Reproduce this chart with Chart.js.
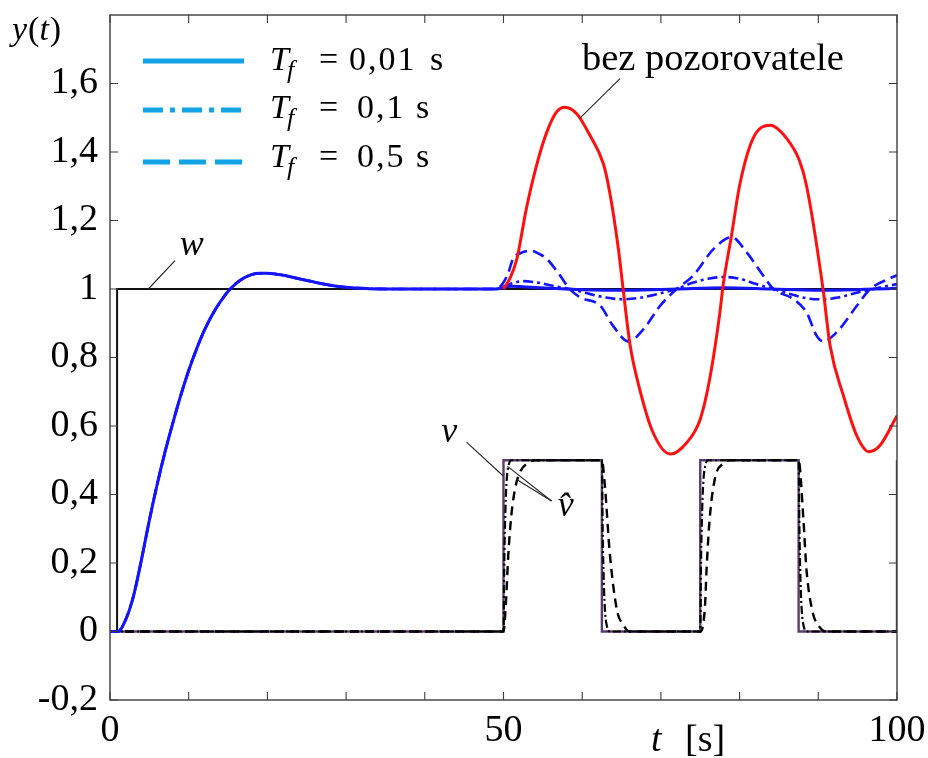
<!DOCTYPE html>
<html>
<head>
<meta charset="utf-8">
<script src="https://cdn.jsdelivr.net/npm/chart.js@4.4.1/dist/chart.umd.min.js"></script>
<style>
  html, body { margin: 0; padding: 0; background: #fff; }
  #c { display: block; }
  .warm { position: absolute; left: -999px; top: 0; font-family: "Liberation Serif", "DejaVu Serif", serif; }
</style>
</head>
<body>
<span class="warm">0,1 <i>v w T</i></span>
<canvas id="c" width="928" height="758"></canvas>
<script>
// ── Data ─────────────────────────────────────────────────
// reference w: unit step
const tW = [0, 0.9, 0.9, 100];
const yW = [0, 0, 1, 1];

// response to w, same for every Tf (0..50 s)
const tRise = [0, 1, 2, 3, 4, 5, 6, 7, 8, 9, 10, 11, 12, 13, 14, 15, 16, 17, 18, 19, 20, 22, 24, 26, 28, 30, 33, 36, 42, 49];
const yRise = [0, 0, 0.035, 0.105, 0.21, 0.325, 0.43, 0.525, 0.61, 0.69, 0.762, 0.825, 0.88, 0.925, 0.962, 0.993, 1.016, 1.032, 1.042, 1.046, 1.046, 1.04, 1.03, 1.02, 1.011, 1.005, 1.001, 1.0, 1.0, 1.0];

// Tf = 0,01 s after disturbance
const tF001 = [50, 51, 53, 56, 60, 66, 72, 78, 84, 90, 96, 100];
const yF001 = [1.0, 1.008, 1.006, 1.002, 0.998, 0.996, 1.0, 1.004, 1.0, 0.996, 0.999, 1.002];

// Tf = 0,1 s
const tF01 = [50, 51, 52.5, 54.5, 56.5, 58.4, 60.5, 63, 65.2, 67.5, 70, 72, 74, 76, 78, 80, 82, 84.3, 86.5, 88.5, 90.2, 92.5, 95, 97, 99, 100];
const yF01 = [1.0, 1.016, 1.023, 1.018, 1.008, 1.0, 0.988, 0.975, 0.97, 0.975, 0.988, 1.0, 1.018, 1.03, 1.035, 1.03, 1.015, 1.0, 0.985, 0.973, 0.97, 0.975, 0.99, 1.0, 1.01, 1.014];

// Tf = 0,5 s
const tF05 = [50, 50.5, 51.2, 52.2, 53.4, 54.5, 55.5, 57.2, 58.4, 59.7, 62.3, 63.9, 65.9, 67.8, 69.9, 72, 74.1, 76.7, 79, 80.9, 83, 84.3, 86.8, 88.5, 89.8, 90.6, 92.3, 94.9, 96.6, 98.9, 100];
const yF05 = [1.0, 1.04, 1.088, 1.105, 1.112, 1.103, 1.088, 1.039, 1.0, 0.976, 0.951, 0.893, 0.847, 0.883, 0.951, 1.0, 1.039, 1.117, 1.151, 1.107, 1.039, 1.0, 0.971, 0.932, 0.863, 0.847, 0.873, 0.951, 1.0, 1.029, 1.04];

// without observer
const tNoObs = [50, 50.8, 51.7, 52.9, 54.2, 55.5, 56.7, 57.8, 59.3, 61, 62.7, 63.5, 64.6, 65.2, 66.1, 67.3, 69, 71.2, 73.3, 75, 76.2, 77.5, 77.9, 79, 80, 81.7, 83.9, 86, 87.6, 88.5, 90.6, 91.5, 93.2, 94.9, 96.4, 97.8, 100];
const yNoObs = [1.0, 1.03, 1.088, 1.234, 1.361, 1.458, 1.516, 1.531, 1.512, 1.448, 1.365, 1.282, 1.117, 1.0, 0.834, 0.708, 0.581, 0.518, 0.552, 0.62, 0.737, 0.932, 1.01, 1.16, 1.302, 1.439, 1.478, 1.439, 1.375, 1.302, 1.0, 0.834, 0.688, 0.571, 0.525, 0.542, 0.63];

// disturbance v
const tV = [0, 50, 50, 62.5, 62.5, 75, 75, 87.5, 87.5, 100, 100];
const yV = [0, 0, 0.5, 0.5, 0, 0, 0.5, 0.5, 0, 0, 0.5];

// estimate v^ (Tf = 0,1 s)
const tVh01 = [0, 50, 50.1, 50.25, 50.4, 50.6, 51, 62.5, 62.6, 62.75, 62.9, 63.1, 63.5, 75, 75.1, 75.25, 75.4, 75.6, 76, 87.5, 87.6, 87.75, 87.9, 88.1, 88.5, 100];
const yVh01 = [0, 0, 0.2, 0.36, 0.44, 0.48, 0.5, 0.5, 0.3, 0.14, 0.06, 0.02, 0, 0, 0.2, 0.36, 0.44, 0.48, 0.5, 0.5, 0.3, 0.14, 0.06, 0.02, 0, 0];

// estimate v^ (Tf = 0,5 s)
const tVh05 = [0, 50, 50.3, 50.6, 51, 51.5, 52.2, 53, 54, 62.5, 62.9, 63.5, 64.4, 65.2, 66, 75, 75.6, 75.8, 76.2, 76.9, 77.9, 78.8, 87.5, 88.1, 88.5, 89.3, 90.1, 91, 100];
const yVh05 = [0, 0, 0.08, 0.22, 0.34, 0.42, 0.47, 0.49, 0.5, 0.5, 0.42, 0.23, 0.064, 0.02, 0, 0, 0.073, 0.18, 0.33, 0.45, 0.49, 0.5, 0.5, 0.33, 0.18, 0.055, 0.015, 0, 0];

// axes
const xLabelled = [0, 50, 100];
const legendTf = ['0,01', '0,1', '0,5'];

// annotations: [text, t, y] and leader lines [t1, y1, t2, y2]
const notes = [['w', 10.4, 1.1], ['bez pozorovatele', 76.6, 1.638], ['v', 43.1, 0.553], ['v\u0302', 57.9, 0.336]];
const leaders = [[8.26, 1.083, 4.87, 1.0], [64.8, 1.614, 59.72, 1.499], [45.3, 0.553, 49.97, 0.454], [56.1, 0.381, 50.48, 0.483], [56.1, 0.381, 51.68, 0.444]];

// ── Helpers ──────────────────────────────────────────────
const SERIF = '"Liberation Serif", "Times New Roman", "DejaVu Serif", "Noto Serif", serif';
const BLUE = '#1414ff', LEG = '#12a2e6', RED = '#ff1010', PURPLE = '#5a3c6c';
const pts = (ts, ys) => ts.map((t, i) => ({ x: t, y: ys[i] }));
const join = (t1, y1, t2, y2) => pts(t1.concat(t2.slice(1)), y1.concat(y2.slice(1)));

function ds(data, color, width, dash, smooth) {
  return {
    data, borderColor: color, borderWidth: width, borderDash: dash || [],
    pointRadius: 0, fill: false,
    tension: smooth ? 0.4 : 0, cubicInterpolationMode: smooth ? 'monotone' : 'default'
  };
}

function put(ctx, s, x, y, size, italic, align) {
  ctx.font = `${italic ? 'italic ' : ''}${size}px ${SERIF}`;
  ctx.textAlign = align || 'left';
  ctx.fillText(s, x, y);
  return x + ctx.measureText(s).width;
}

// ── Frame with inward ticks on all four sides ────────────
const frame = {
  id: 'frame',
  afterDatasetsDraw(chart) {
    const { ctx, chartArea: a, scales: { x, y } } = chart;
    const TL = 8;
    ctx.save();
    ctx.strokeStyle = '#3c3c3c';
    ctx.lineWidth = 1.4;
    ctx.strokeRect(a.left, a.top, a.right - a.left, a.bottom - a.top);
    ctx.lineWidth = 1.1;
    ctx.beginPath();
    x.ticks.forEach(t => {
      const p = x.getPixelForValue(t.value);
      ctx.moveTo(p, a.bottom); ctx.lineTo(p, a.bottom - TL);
      ctx.moveTo(p, a.top); ctx.lineTo(p, a.top + TL);
    });
    y.ticks.forEach(t => {
      const p = y.getPixelForValue(t.value);
      ctx.moveTo(a.left, p); ctx.lineTo(a.left + TL, p);
      ctx.moveTo(a.right, p); ctx.lineTo(a.right - TL, p);
    });
    ctx.stroke();
    ctx.restore();
  }
};

// ── Legend, notes and axis titles ────────────────────────
const texts = {
  id: 'texts',
  afterDraw(chart) {
    const { ctx, scales: { x, y } } = chart;
    ctx.save();
    ctx.fillStyle = '#000';
    ctx.textBaseline = 'alphabetic';

    // legend
    const rowLine = [61, 110, 162], rowBase = [70, 118, 167];
    const dashes = [[], [20, 7, 5, 7], [27, 9]];
    legendTf.forEach((v, i) => {
      ctx.strokeStyle = LEG; ctx.lineWidth = 5; ctx.setLineDash(dashes[i]);
      ctx.beginPath(); ctx.moveTo(143, rowLine[i]); ctx.lineTo(244, rowLine[i]); ctx.stroke();
      ctx.setLineDash([]);
      put(ctx, 'T', 270, rowBase[i], 34, true);
      put(ctx, 'f', 287, rowBase[i] + 8, 26, true);
      put(ctx, '=', 319, rowBase[i], 34, false);
      ctx.letterSpacing = '2px';
      put(ctx, v, i ? 357 : 349, rowBase[i], 34, false);
      ctx.letterSpacing = '0px';
      put(ctx, 's', i ? 416 : 430, rowBase[i], 34, false);
    });

    // y(t)
    let cx = put(ctx, 'y', 12, 40, 34, true);
    cx = put(ctx, '(', cx + 1, 40, 34, false);
    cx = put(ctx, 't', cx, 40, 34, true);
    put(ctx, ')', cx + 1, 40, 34, false);

    // t [s]
    put(ctx, 't', 651, 751, 38, true);
    put(ctx, '[s]', 685, 751, 38, false);

    // notes and leader lines
    ctx.strokeStyle = '#222'; ctx.lineWidth = 1.1;
    leaders.forEach(([t1, v1, t2, v2]) => {
      ctx.beginPath();
      ctx.moveTo(x.getPixelForValue(t1), y.getPixelForValue(v1));
      ctx.lineTo(x.getPixelForValue(t2), y.getPixelForValue(v2));
      ctx.stroke();
    });
    notes.forEach(([s, t, v]) => {
      put(ctx, s, x.getPixelForValue(t), y.getPixelForValue(v), s.length > 3 ? 38.5 : 36, s.length <= 3, 'center');
    });
    ctx.restore();
  }
};

// ── Chart ────────────────────────────────────────────────
function draw() {
  Chart.defaults.font.family = SERIF;
  Chart.defaults.color = '#000';

  new Chart(document.getElementById('c'), {
    type: 'line',
    data: {
      datasets: [
        ds(pts(tNoObs, yNoObs), RED, 3, null, true),
        ds(join(tRise, yRise, tF001, yF001), BLUE, 3, null, true),
        ds(join(tRise, yRise, tF01, yF01), BLUE, 2.6, [10, 4, 3, 4], true),
        ds(join(tRise, yRise, tF05, yF05), BLUE, 2.6, [12, 6], true),
        ds(pts(tVh01, yVh01), '#000', 2.2, [8, 3, 2, 3], true),
        ds(pts(tVh05, yVh05), '#000', 2.4, [9, 6], true),
        ds(pts(tV, yV), PURPLE, 2.4, null, false),
        ds(pts(tW, yW), '#111', 2, null, false)
      ]
    },
    options: {
      responsive: false,
      animation: false,
      devicePixelRatio: 1,
      layout: { padding: { top: 15, right: 31, left: 0, bottom: 0 } },
      plugins: { legend: { display: false }, tooltip: { enabled: false } },
      scales: {
        x: {
          type: 'linear', min: 0, max: 100,
          grid: { display: false, drawTicks: false },
          border: { display: false },
          afterFit: s => { s.height = 58; s.paddingLeft = 0; s.paddingRight = 0; },
          ticks: {
            stepSize: 10, autoSkip: false, maxRotation: 0, padding: 8,
            font: { size: 38 }, color: '#000',
            callback: v => xLabelled.includes(v) ? String(v) : ''
          }
        },
        y: {
          min: -0.2, max: 1.8,
          grid: { display: false, drawTicks: false },
          border: { display: false },
          afterFit: s => { s.width = 110; s.paddingTop = 0; s.paddingBottom = 0; },
          ticks: {
            stepSize: 0.2, padding: 12,
            font: { size: 38 }, color: '#000',
            callback: v => {
              const r = Math.round(v * 10) / 10;
              return r > 1.7 ? null : String(r).replace('.', ',');
            }
          }
        }
      }
    },
    plugins: [frame, texts]
  });
}

Promise.all([
  document.fonts.load('38px "Liberation Serif"'),
  document.fonts.load('italic 36px "Liberation Serif"')
]).catch(() => {}).then(() => document.fonts.ready).then(draw, draw);
</script>
</body>
</html>
